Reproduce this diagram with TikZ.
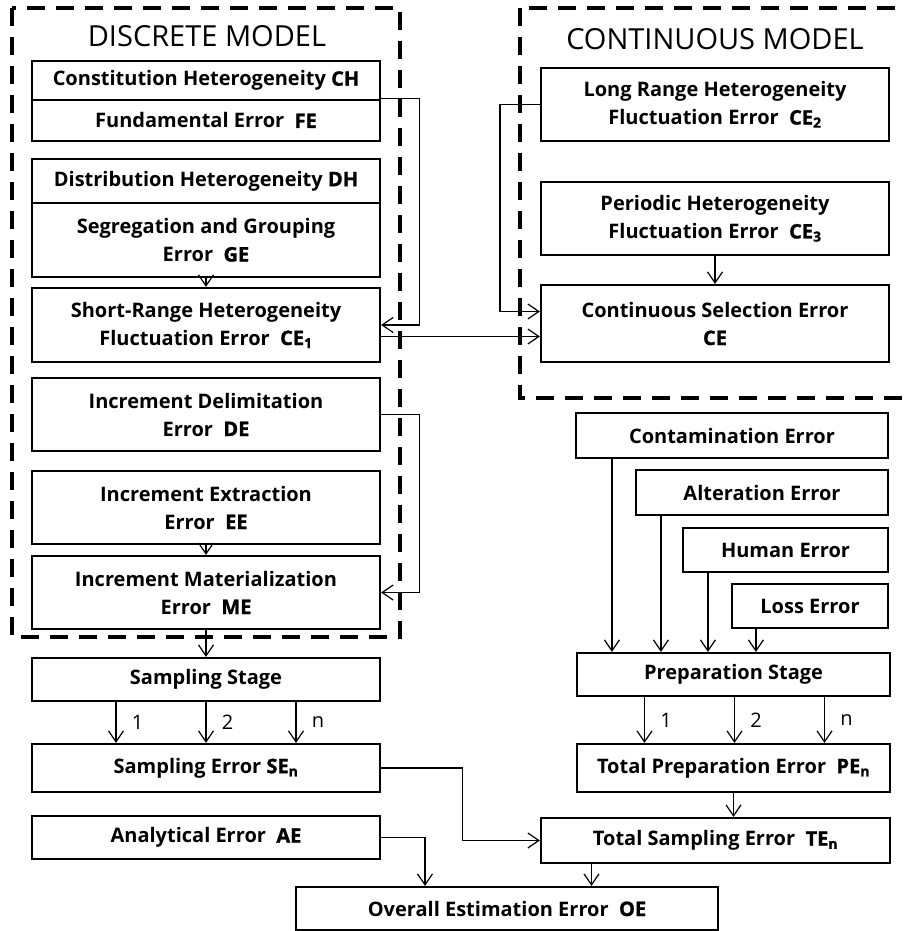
\documentclass[tikz,border=0pt]{standalone}
\usepackage{fontspec}
\setmainfont{Open Sans}
\newfontfamily\heavyfont{Open Sans}[BoldFeatures={FakeBold=1.2}]
\usetikzlibrary{arrows.meta}
\newcommand{\ab}[1]{{\heavyfont\bfseries #1}}

\begin{document}
\begin{tikzpicture}[x=1pt, y=-1pt,
  box/.style={draw, line width=2.2pt, align=center, inner sep=0pt, minimum width=348pt, font=\bfseries\fontsize{20}{28}\selectfont},
  arr/.style={line width=1.2pt, -{Straight Barb[length=11pt,width=15pt,line width=1.2pt]}},
  model/.style={line width=4pt, dash pattern=on 18pt off 11pt},
  title/.style={font=\fontsize{29}{32}\selectfont},
  num/.style={font=\fontsize{20}{20}\selectfont, right=12pt}]
\useasboundingbox (0,0) rectangle (904,931);

%Model frames
\draw[model] (12,8) rectangle (400,637);
\draw[model] (520,8) rectangle (912,398);
\node[title] (dtitle) at (207,36) {DISCRETE MODEL};
\node[title] (ctitle) at (715,39) {CONTINUOUS MODEL};

%Discrete model boxes
\node[box, minimum height=39pt] (ch) at (206,80.5) {Constitution Heterogeneity \ab{CH}};
\node[box, minimum height=41pt] (fe) at (206,120.5) {Fundamental Error \ \ab{FE}};
\node[box, minimum height=44pt] (dh) at (206,181) {Distribution Heterogeneity \ab{DH}};
\node[box, minimum height=74pt] (ge) at (206,240) {Segregation and Grouping\\Error \ \ab{GE}};
\node[box, minimum height=74pt] (ce1) at (206,325) {Short-Range Heterogeneity\\Fluctuation Error \ \ab{CE\textsubscript{1}}};
\node[box, minimum height=73pt] (de) at (206,414.5) {Increment Delimitation\\Error \ \ab{DE}};
\node[box, minimum height=73pt] (ee) at (206,507.5) {Increment Extraction\\Error \ \ab{EE}};
\node[box, minimum height=73pt] (me) at (206,592.5) {Increment Materialization\\Error \ \ab{ME}};

%Continuous model boxes
\node[box, minimum height=73pt] (ce2) at (715,104.5) {Long Range Heterogeneity\\Fluctuation Error \ \ab{CE\textsubscript{2}}};
\node[box, minimum height=73pt] (ce3) at (715,218.5) {Periodic Heterogeneity\\Fluctuation Error \ \ab{CE\textsubscript{3}}};
\node[box, minimum height=77pt] (ce) at (715,323.5) {Continuous Selection Error\\\ab{CE}};

%Preparation boxes
\node[box, minimum width=312pt, minimum height=45pt] (cont) at (732,435.5) {Contamination Error};
\node[box, minimum width=252pt, minimum height=45pt] (alt) at (762,492.5) {Alteration Error};
\node[box, minimum width=205pt, minimum height=44pt] (hum) at (785.5,550) {Human Error};
\node[box, minimum width=156pt, minimum height=44pt] (loss) at (810,606) {Loss Error};
\node[box, minimum width=313pt, minimum height=43pt] (prep) at (733.5,674.5) {Preparation Stage};
\node[box, minimum width=313pt, minimum height=48pt] (pen) at (733.5,768) {Total Preparation Error \ \ab{PE\textsubscript{n}}};
\node[box, minimum width=349pt, minimum height=45pt] (ten) at (715.5,840.5) {Total Sampling Error \ \ab{TE\textsubscript{n}}};

%Sampling boxes
\node[box, minimum height=43pt] (samp) at (206,679.5) {Sampling Stage};
\node[box, minimum height=48pt] (sen) at (206,768) {Sampling Error \ab{SE\textsubscript{n}}};
\node[box, minimum height=43pt] (ae) at (206,837.5) {Analytical Error \ \ab{AE}};
\node[box, minimum width=422pt, minimum height=43pt] (oe) at (507,908.5) {Overall Estimation Error \ \ab{OE}};

%Arrows
\draw[arr] (ge.south) -- (ce1.north);
\draw[arr] (ee.south) -- (me.north);
\draw[arr] (me.south) -- (samp.north);
\draw[arr] (fe.north east) -- ++(38,0) |- (ce1.east);
\draw[arr] (de.east) -- ++(38,0) |- (me.east);
\coordinate (cein) at ([yshift=-13pt]ce.west);
\draw[arr] (ce1.east |- cein) -- (cein);
\draw[arr] (ce2.west) -- ++(-40,0) |- ([yshift=12pt]ce.west);
\draw[arr] (ce3.south) -- (ce.north);

\foreach \n/\d in {cont/37,alt/26,hum/26,loss/25}{
  \path ([xshift=\d pt]\n.south west) coordinate (top);
  \draw[arr] (top) -- (top |- prep.north);
}
\foreach \d/\l in {-90/1,0/2,90/n}{
  \path ([xshift=\d pt]samp.south) coordinate (s);
  \draw[arr] (s) -- (s |- sen.north) node[num, midway] {\l};
}
\foreach \d/\l in {-89/1,1/2,91/n}{
  \path ([xshift=\d pt]prep.south) coordinate (p);
  \draw[arr] (p) -- (p |- pen.north) node[num, midway] {\l};
}

\draw[arr] (sen.east) -- ++(81,0) |- (ten.west);
\draw[arr] (ae.east) -| ([xshift=-82pt]oe.north);
\path ([xshift=-124pt]ten.south) coordinate (tout);
\draw[arr] (tout) -- (tout |- oe.north);
\draw[arr] (pen.south) -- (pen.south |- ten.north);
\end{tikzpicture}
\end{document}
